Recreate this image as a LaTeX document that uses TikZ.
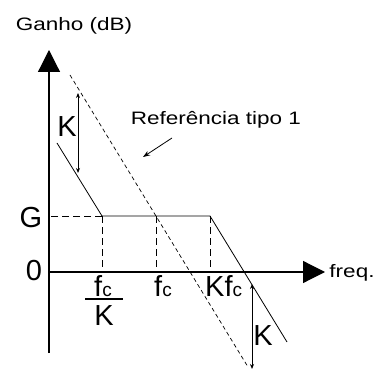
\documentclass[tikz,border=0pt]{standalone}
\usepackage{fontspec}
\setmainfont{Liberation Sans}
\newfontfamily\widesans[FakeStretch=1.25]{Liberation Sans}
\usetikzlibrary{arrows.meta, positioning}
\newcommand\subc{{\fontsize{19}{19}\selectfont c}}

\begin{document}
\begin{tikzpicture}[x=1pt, y=-1pt,
    axis/.style={line width=1.2pt, -{Triangle[length=22pt, width=22pt]}},
    curve/.style={line width=0.8pt},
    guide/.style={line width=0.8pt, dash pattern=on 7pt off 4pt},
    refline/.style={line width=0.7pt, dash pattern=on 4pt off 3pt},
    gainarrow/.style={line width=0.9pt, {Stealth[length=5pt, width=4pt]}-{Stealth[length=5pt, width=4pt]}},
    smalllabel/.style={font=\widesans\fontsize{18}{20}\selectfont, inner sep=0pt, anchor=base},
    biglabel/.style={font=\fontsize{29}{32}\selectfont, inner sep=0pt, anchor=base}
]
\useasboundingbox (0,0) rectangle (377,371);

% Achsen
\coordinate (origin) at (49,272);
\coordinate (ytop) at (49,50);
\coordinate (ybot) at (49,353);
\coordinate (xtip) at (325,272);
\draw[axis] (ybot) -- (ytop);
\draw[axis] (origin) -- (xtip);
\node[smalllabel] (ylabel) at (74,31) {Ganho (dB)};
\node[smalllabel] (xlabel) at (352,277) {freq.};
\node[biglabel] (glabel) at (31,228) {G};
\node[biglabel] (zerolabel) at (34,280) {0};

% Knickpunkte der Kennlinie
\coordinate (s0) at (57,143);
\coordinate (bp1) at (102,216);
\coordinate (bp2) at (210,216);
\coordinate (s3) at (287,342);
\coordinate (fcG) at (156,216);

% Referenzgerade
\coordinate (r0) at (70,75);
\coordinate (r1) at (248,367);

% Kennlinie und Referenz
\draw[curve] (s0) -- (bp1) -- (bp2) -- (s3);
\draw[refline] (r0) -- (r1);

% Hilfslinien
\draw[guide] (bp1) -- (bp1 -| origin);
\draw[guide] (bp1) -- (bp1 |- origin);
\draw[guide] (fcG) -- (fcG |- origin);
\draw[guide] (bp2) -- (bp2 |- origin);

% Frequenzmarken
\node[biglabel, anchor=base west] (fcnum) at (94,296) {f\subc};
\draw[line width=1.2pt] (85,299) -- (123,299);
\node[biglabel] (fcden) at (104,325) {K};
\node[biglabel, anchor=base west] (fclabel) at (154,296) {f\subc};
\node[biglabel, anchor=base west] (Kfclabel) at (205,296) {Kf\subc};

% Verschiebung um K
\coordinate (ka0) at (78,93);
\coordinate (ka1) at (78,173);
\draw[gainarrow] (ka0) -- (ka1);
\node[biglabel] (klabel1) at (67,137) {K};
\coordinate (kb0) at (252,284);
\coordinate (kb1) at (252,369);
\draw[gainarrow] (kb0) -- (kb1);
\node[biglabel] (klabel2) at (263,345) {K};

% Beschriftung der Referenz
\node[smalllabel] (reflabel) at (216,125) {Referência tipo 1};
\coordinate (refstart) at (172,138);
\coordinate (refend) at (143,157);
\draw[curve, -{Stealth[length=7pt, width=5pt]}] (refstart) -- (refend);

\end{tikzpicture}
\end{document}
